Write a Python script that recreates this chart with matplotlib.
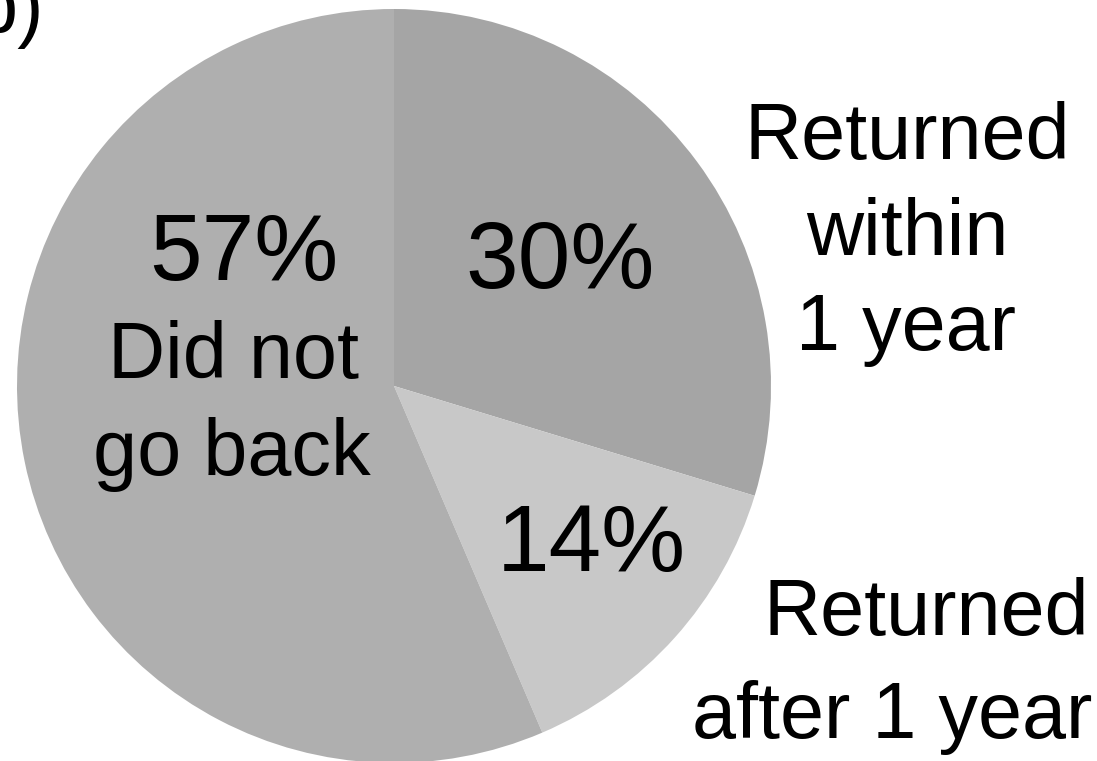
import matplotlib.pyplot as plt

plt.rcParams['font.family'] = ['Liberation Sans', 'DejaVu Sans']

# Share of people by whether they went back
shares = [30, 14, 57]
pct_labels = ["30%", "14%", "57%"]
colors = ["#a5a5a5", "#c8c8c8", "#afafaf"]

W, H = 1097, 761
fig = plt.figure(figsize=(W / 100, H / 100), dpi=100)
ax = fig.add_axes([0, 0, 1, 1])

cx, cy, r = 394, H - 386, 377
ax.pie(shares, colors=colors, startangle=90, counterclock=False,
       center=(cx, cy), radius=r, frame=True,
       wedgeprops=dict(linewidth=0))
ax.set_xlim(0, W)
ax.set_ylim(0, H)
ax.set_aspect('equal')
ax.axis('off')

big = 68
mid = 57


def put(x, y_img, s, size):
    ax.text(x, H - y_img, s, fontsize=size, ha='center', va='baseline')


# percentage labels inside the slices
put(560, 288, pct_labels[0], big)
put(591, 571, pct_labels[1], big)
put(244, 280, pct_labels[2], big)

# category labels
put(233, 378, "Did not", mid)
put(232, 475, "go back", mid)
put(907, 159, "Returned", mid)
put(907, 255, "within", mid)
put(906, 350, "1 year", mid)
put(926, 635, "Returned", mid)
put(892, 738, "after 1 year", mid)

# panel letter
ax.text(44, H - 32, "b)", fontsize=mid, ha='right', va='baseline')

fig.savefig("out.png", dpi=100)
